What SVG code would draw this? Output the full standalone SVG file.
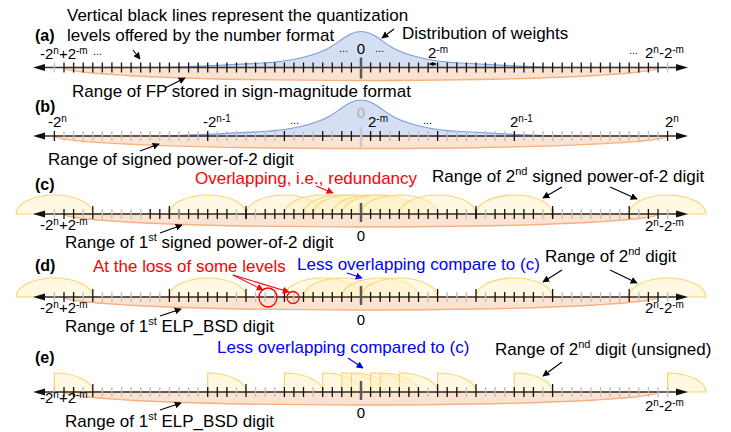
<svg xmlns="http://www.w3.org/2000/svg" xmlns:xlink="http://www.w3.org/1999/xlink" width="731" height="432" viewBox="0 0 731 432">
<style>
.t{font-family:"Liberation Sans",Arial,sans-serif;font-size:17px;fill:#000}
.tl{font-family:"Liberation Sans",Arial,sans-serif;font-size:15px;fill:#000}
.dots{font-family:"Liberation Sans",Arial,sans-serif;font-size:11px;fill:#000}
.sp{font-size:10px}
.sp2{font-size:11px}
.b{font-family:"Liberation Sans",Arial,sans-serif;font-size:16px;font-weight:bold;fill:#000}
.red{fill:#ff0000}
.blue{fill:#0000ff}
.lens{fill:#fbe3d2;stroke:#f4b183;stroke-width:1.4}
.dist{fill:#cfdcf2;fill-opacity:0.9;stroke:#7f9fd8;stroke-width:1.2}
.arc{fill:#fff2cc;fill-opacity:0.55;stroke:#fbd46e;stroke-width:1.2}
.axis{stroke:#333;stroke-width:1.6;fill:none}
.head{fill:#111}
.tk{stroke:#111;stroke-width:1.3;fill:none}
.tg{stroke:#c0c0c0;stroke-width:1.3;fill:none}
.ctr{stroke:#595959;stroke-width:2.5}
.ann{stroke:#000;stroke-width:1.1;fill:none;marker-end:url(#ah)}
.annr{stroke:#ff0000;stroke-width:1.1;fill:none;marker-end:url(#ahr)}
.annb{stroke:#0000ff;stroke-width:1.1;fill:none;marker-end:url(#ahb)}
.ring{fill:none;stroke:#ff0000;stroke-width:1.3}
</style>
<defs>
<marker id="ah" viewBox="0 0 10 10" refX="9" refY="5" markerWidth="7" markerHeight="7" markerUnits="userSpaceOnUse" orient="auto"><path d="M0,0L10,5L0,10z" fill="#000"/></marker>
<marker id="ahr" viewBox="0 0 10 10" refX="9" refY="5" markerWidth="7" markerHeight="7" markerUnits="userSpaceOnUse" orient="auto"><path d="M0,0L10,5L0,10z" fill="#ff0000"/></marker>
<marker id="ahb" viewBox="0 0 10 10" refX="9" refY="5" markerWidth="7" markerHeight="7" markerUnits="userSpaceOnUse" orient="auto"><path d="M0,0L10,5L0,10z" fill="#0000ff"/></marker>
<marker id="ahs" viewBox="0 0 10 10" refX="9" refY="5" markerWidth="4" markerHeight="4" markerUnits="userSpaceOnUse" orient="auto-start-reverse"><path d="M0,0L10,5L0,10z" fill="#000"/></marker>
<path id="distshape" class="dist" d="M-200,0C-165,-0.5 -130,-3 -99,-4.5C-70,-5.5 -45,-12.4 -32,-19.5C-22,-25 -12,-36 0,-36C12,-36 22,-25 32,-19.5C45,-12.4 70,-5.5 99,-4.5C130,-3 165,-0.5 200,0Z"/>
<g id="axisline">
<line class="axis" x1="44" y1="0" x2="677" y2="0"/>
<polygon class="head" points="33,0 45,-3.6 45,3.6"/>
<polygon class="head" points="688,0 676,-3.6 676,3.6"/>
</g>
</defs>

<!-- Panel (a) -->
<g id="panel-a">
<path class="lens" d="M64,67.5A297,13 0 0 0 658,67.5Z"/>
<use xlink:href="#distshape" href="#distshape" x="361" y="67.5"/>
<use xlink:href="#axisline" href="#axisline" y="67.5"/>
<g transform="translate(0,67.5)">
<path class="tk" d="M64,-5v10M73.6,-5v10M83.2,-5v10M92.8,-5v10M102.3,-5v10M111.9,-5v10M121.5,-5v10M131.1,-5v10M140.7,-5v10M150.2,-5v10M159.8,-5v10M169.4,-5v10M179,-5v10M188.6,-5v10M198.1,-5v10M207.7,-5v10M217.3,-5v10M226.9,-5v10M236.5,-5v10M246,-5v10M255.6,-5v10M265.2,-5v10M274.8,-5v10M284.4,-5v10M293.9,-5v10M303.5,-5v10M313.1,-5v10M322.7,-5v10M332.3,-5v10M341.8,-5v10M351.4,-5v10M370.6,-5v10M380.2,-5v10M389.7,-5v10M399.3,-5v10M408.9,-5v10M418.5,-5v10M428.1,-5v10M437.6,-5v10M447.2,-5v10M456.8,-5v10M466.4,-5v10M476,-5v10M485.5,-5v10M495.1,-5v10M504.7,-5v10M514.3,-5v10M523.9,-5v10M533.4,-5v10M543,-5v10M552.6,-5v10M562.2,-5v10M571.8,-5v10M581.3,-5v10M590.9,-5v10M600.5,-5v10M610.1,-5v10M619.7,-5v10M629.2,-5v10M638.8,-5v10M648.4,-5v10M658,-5v10"/>
<path class="tg" d="M54.4,-5v10M667.6,-5v10"/>
<line class="ctr" x1="361" y1="-10" x2="361" y2="11"/>
</g>
<text class="t" x="67" y="21">Vertical black lines represent the quantization</text>
<text class="t" x="67" y="41">levels offered by the number format</text>
<text class="b" x="35" y="41">(a)</text>
<text class="tl" x="40" y="58.5">-2<tspan class="sp" dy="-5">n</tspan><tspan dy="5">+2</tspan><tspan class="sp" dy="-5">-m</tspan></text>
<text class="dots" x="93" y="55">...</text>
<text class="dots" x="339" y="52">...</text>
<text class="tl" x="361" y="54" text-anchor="middle">0</text>
<text class="dots" x="375" y="52">...</text>
<text class="tl" x="428" y="58">2<tspan class="sp" dy="-5">-m</tspan></text>
<text class="dots" x="629" y="54">...</text>
<text class="tl" x="645" y="58">2<tspan class="sp" dy="-5">n</tspan><tspan dy="5">-2</tspan><tspan class="sp" dy="-5">-m</tspan></text>
<text class="t" x="402" y="39">Distribution of weights</text>
<text class="t" x="72" y="97">Range of FP stored in sign-magnitude format</text>
</g>

<!-- Panel (b) -->
<g id="panel-b">
<path class="lens" d="M54.4,136A306.6,12.5 0 0 0 667.6,136Z"/>
<use xlink:href="#distshape" href="#distshape" x="361" y="136"/>
<use xlink:href="#axisline" href="#axisline" y="136"/>
<g transform="translate(0,136)">
<path class="tg" d="M64,-5v10M73.6,-5v10M83.2,-5v10M92.8,-5v10M102.3,-5v10M111.9,-5v10M121.5,-5v10M131.1,-5v10M140.7,-5v10M150.2,-5v10M159.8,-5v10M169.4,-5v10M179,-5v10M188.6,-5v10M198.1,-5v10M217.3,-5v10M226.9,-5v10M236.5,-5v10M246,-5v10M255.6,-5v10M265.2,-5v10M274.8,-5v10M293.9,-5v10M303.5,-5v10M313.1,-5v10M332.3,-5v10M389.7,-5v10M408.9,-5v10M418.5,-5v10M428.1,-5v10M447.2,-5v10M456.8,-5v10M466.4,-5v10M476,-5v10M485.5,-5v10M495.1,-5v10M504.7,-5v10M523.9,-5v10M533.4,-5v10M543,-5v10M552.6,-5v10M562.2,-5v10M571.8,-5v10M581.3,-5v10M590.9,-5v10M600.5,-5v10M610.1,-5v10M619.7,-5v10M629.2,-5v10M638.8,-5v10M648.4,-5v10M658,-5v10"/>
<path class="tk" d="M54.4,-5v10M207.7,-5v10M284.4,-5v10M322.7,-5v10M341.8,-5v10M351.4,-5v10M370.6,-5v10M380.2,-5v10M399.3,-5v10M437.6,-5v10M514.3,-5v10M667.6,-5v10"/>
<line x1="361" y1="-9" x2="361" y2="11" stroke="#c8c8c8" stroke-width="2.5"/>
</g>
<text class="b" x="35" y="112">(b)</text>
<text class="tl" x="48" y="127">-2<tspan class="sp" dy="-5">n</tspan></text>
<text class="tl" x="203" y="127">-2<tspan class="sp" dy="-5">n-1</tspan></text>
<text class="dots" x="290" y="124">...</text>
<text class="tl" x="361" y="118" text-anchor="middle" style="fill:#b0b0b0">0</text>
<text class="tl" x="368" y="127">2<tspan class="sp" dy="-5">-m</tspan></text>
<text class="dots" x="423" y="124">...</text>
<text class="tl" x="510" y="127">2<tspan class="sp" dy="-5">n-1</tspan></text>
<text class="tl" x="665" y="127">2<tspan class="sp" dy="-5">n</tspan></text>
<text class="t" x="48" y="165">Range of signed power-of-2 digit</text>
</g>

<!-- Panel (c) -->
<g id="panel-c">
<path class="lens" d="M64,214A297,13 0 0 0 658,214Z"/>
<g id="arcs-c">
<path class="arc" d="M16.1,214A38.3,19 0 0 1 92.8,214Z"/>
<path class="arc" d="M169.4,214A38.3,19 0 0 1 246,214Z"/>
<path class="arc" d="M246,214A38.3,19 0 0 1 322.7,214Z"/>
<path class="arc" d="M284.4,214A38.3,19 0 0 1 361,214Z"/>
<path class="arc" d="M303.5,214A38.3,19 0 0 1 380.2,214Z"/>
<path class="arc" d="M313.1,214A38.3,19 0 0 1 389.7,214Z"/>
<path class="arc" d="M332.3,214A38.3,19 0 0 1 408.9,214Z"/>
<path class="arc" d="M341.8,214A38.3,19 0 0 1 418.5,214Z"/>
<path class="arc" d="M361,214A38.3,19 0 0 1 437.6,214Z"/>
<path class="arc" d="M399.3,214A38.3,19 0 0 1 476,214Z"/>
<path class="arc" d="M476,214A38.3,19 0 0 1 552.6,214Z"/>
<path class="arc" d="M629.2,214A38.3,19 0 0 1 705.9,214Z"/>
</g>
<use xlink:href="#axisline" href="#axisline" y="214"/>
<g transform="translate(0,214)">
<path class="tk" d="M64,-5v10M73.6,-5v10M150.2,-5v10M159.8,-5v10M169.4,-5v10M179,-5v10M188.6,-5v10M198.1,-5v10M207.7,-5v10M217.3,-5v10M226.9,-5v10M246,-5v10M265.2,-5v10M274.8,-5v10M284.4,-5v10M293.9,-5v10M303.5,-5v10M313.1,-5v10M322.7,-5v10M332.3,-5v10M341.8,-5v10M351.4,-5v10M370.6,-5v10M380.2,-5v10M389.7,-5v10M399.3,-5v10M408.9,-5v10M418.5,-5v10M428.1,-5v10M437.6,-5v10M447.2,-5v10M456.8,-5v10M476,-5v10M495.1,-5v10M504.7,-5v10M514.3,-5v10M523.9,-5v10M533.4,-5v10M552.6,-5v10M648.4,-5v10M658,-5v10"/>
<path class="tk" d="M92.8,-8v13M169.4,-8v13M246,-8v13M476,-8v13M552.6,-8v13M629.2,-8v13"/>
<path class="tg" d="M54.4,-5v10M83.2,-5v10M102.3,-5v10M111.9,-5v10M121.5,-5v10M131.1,-5v10M140.7,-5v10M179,-5v10M236.5,-5v10M255.6,-5v10M466.4,-5v10M485.5,-5v10M543,-5v10M562.2,-5v10M571.8,-5v10M581.3,-5v10M590.9,-5v10M600.5,-5v10M610.1,-5v10M619.7,-5v10M638.8,-5v10M667.6,-5v10"/>
<line class="ctr" x1="361" y1="-11" x2="361" y2="8"/>
</g>
<text class="b" x="35" y="190">(c)</text>
<text class="t red" x="195" y="184">Overlapping, i.e., redundancy</text>
<text class="t" x="432" y="182">Range of 2<tspan class="sp2" dy="-7">nd</tspan><tspan dy="7"> signed power-of-2 digit</tspan></text>
<text class="tl" x="40" y="229.5">-2<tspan class="sp" dy="-5">n</tspan><tspan dy="5">+2</tspan><tspan class="sp" dy="-5">-m</tspan></text>
<text class="tl" x="361" y="241" text-anchor="middle">0</text>
<text class="tl" x="645" y="231">2<tspan class="sp" dy="-5">n</tspan><tspan dy="5">-2</tspan><tspan class="sp" dy="-5">-m</tspan></text>
<text class="t" x="65" y="247.5">Range of 1<tspan class="sp2" dy="-7">st</tspan><tspan dy="7"> signed power-of-2 digit</tspan></text>
</g>

<!-- Panel (d) -->
<g id="panel-d">
<path class="lens" d="M64,297A297,13 0 0 0 658,297Z"/>
<g id="arcs-d">
<path class="arc" d="M16.1,297A38.3,19 0 0 1 92.8,297Z"/>
<path class="arc" d="M169.4,297A38.3,19 0 0 1 246,297Z"/>
<path class="arc" d="M284.4,297A38.3,19 0 0 1 361,297Z"/>
<path class="arc" d="M303.5,297A38.3,19 0 0 1 380.2,297Z"/>
<path class="arc" d="M341.8,297A38.3,19 0 0 1 418.5,297Z"/>
<path class="arc" d="M361,297A38.3,19 0 0 1 437.6,297Z"/>
<path class="arc" d="M476,297A38.3,19 0 0 1 552.6,297Z"/>
<path class="arc" d="M629.2,297A38.3,19 0 0 1 705.9,297Z"/>
</g>
<use xlink:href="#axisline" href="#axisline" y="297"/>
<g transform="translate(0,297)">
<path class="tk" d="M64,-5v10M73.6,-5v10M179,-5v10M188.6,-5v10M198.1,-5v10M207.7,-5v10M217.3,-5v10M226.9,-5v10M303.5,-5v10M313.1,-5v10M322.7,-5v10M332.3,-5v10M341.8,-5v10M351.4,-5v10M370.6,-5v10M380.2,-5v10M389.7,-5v10M399.3,-5v10M408.9,-5v10M418.5,-5v10M495.1,-5v10M504.7,-5v10M514.3,-5v10M523.9,-5v10M533.4,-5v10M648.4,-5v10M658,-5v10"/>
<path class="tk" d="M92.8,-8v13M169.4,-8v13M246,-8v13M284.4,-8v13M437.6,-8v13M476,-8v13M552.6,-8v13M629.2,-8v13"/>
<path class="tg" d="M54.4,-5v10M83.2,-5v10M102.3,-5v10M111.9,-5v10M121.5,-5v10M131.1,-5v10M140.7,-5v10M150.2,-5v10M159.8,-5v10M236.5,-5v10M255.6,-5v10M265.2,-5v10M274.8,-5v10M293.9,-5v10M428.1,-5v10M447.2,-5v10M456.8,-5v10M466.4,-5v10M485.5,-5v10M543,-5v10M562.2,-5v10M571.8,-5v10M581.3,-5v10M590.9,-5v10M600.5,-5v10M610.1,-5v10M619.7,-5v10M638.8,-5v10M667.6,-5v10"/>
<line class="ctr" x1="361" y1="-11" x2="361" y2="8"/>
</g>
<ellipse class="ring" cx="268" cy="297.5" rx="9" ry="9.5"/>
<circle class="ring" cx="293" cy="297.5" r="6"/>
<text class="b" x="35" y="271">(d)</text>
<text class="t red" x="93" y="272">At the loss of some levels</text>
<text class="t blue" x="297" y="270">Less overlapping compare to (c)</text>
<text class="t" x="545" y="262">Range of 2<tspan class="sp2" dy="-7">nd</tspan><tspan dy="7"> digit</tspan></text>
<text class="tl" x="40" y="313">-2<tspan class="sp" dy="-5">n</tspan><tspan dy="5">+2</tspan><tspan class="sp" dy="-5">-m</tspan></text>
<text class="tl" x="361" y="325" text-anchor="middle">0</text>
<text class="tl" x="645" y="313">2<tspan class="sp" dy="-5">n</tspan><tspan dy="5">-2</tspan><tspan class="sp" dy="-5">-m</tspan></text>
<text class="t" x="65" y="332">Range of 1<tspan class="sp2" dy="-7">st</tspan><tspan dy="7"> ELP_BSD digit</tspan></text>
</g>

<!-- Panel (e) -->
<g id="panel-e">
<path class="lens" d="M64,392A297,13 0 0 0 658,392Z"/>
<g id="arcs-e">
<path class="arc" d="M54.4,392V373A38.3,19 0 0 1 92.8,392Z"/>
<path class="arc" d="M207.7,392V373A38.3,19 0 0 1 246,392Z"/>
<path class="arc" d="M284.4,392V373A38.3,19 0 0 1 322.7,392Z"/>
<path class="arc" d="M322.7,392V373A38.3,19 0 0 1 361,392Z"/>
<path class="arc" d="M341.8,392V373A38.3,19 0 0 1 380.2,392Z"/>
<path class="arc" d="M351.4,392V373A38.3,19 0 0 1 389.7,392Z"/>
<path class="arc" d="M370.6,392V373A38.3,19 0 0 1 408.9,392Z"/>
<path class="arc" d="M380.2,392V373A38.3,19 0 0 1 418.5,392Z"/>
<path class="arc" d="M399.3,392V373A38.3,19 0 0 1 437.6,392Z"/>
<path class="arc" d="M437.6,392V373A38.3,19 0 0 1 476,392Z"/>
<path class="arc" d="M514.3,392V373A38.3,19 0 0 1 552.6,392Z"/>
<path class="arc" d="M667.6,392V373A38.3,19 0 0 1 705.9,392Z"/>
</g>
<use xlink:href="#axisline" href="#axisline" y="392"/>
<g transform="translate(0,392)">
<path class="tk" d="M64,-5v10M73.6,-5v10M207.7,-5v10M217.3,-5v10M226.9,-5v10M284.4,-5v10M293.9,-5v10M303.5,-5v10M322.7,-5v10M332.3,-5v10M341.8,-5v10M351.4,-5v10M370.6,-5v10M380.2,-5v10M389.7,-5v10M399.3,-5v10M408.9,-5v10M418.5,-5v10M447.2,-5v10M456.8,-5v10M514.3,-5v10M523.9,-5v10M533.4,-5v10"/>
<path class="tk" d="M92.8,-8v13M246,-8v13M437.6,-8v13M476,-8v13M552.6,-8v13"/>
<path class="tg" d="M54.4,-5v10M83.2,-5v10M102.3,-5v10M111.9,-5v10M121.5,-5v10M131.1,-5v10M140.7,-5v10M150.2,-5v10M159.8,-5v10M169.4,-5v10M179,-5v10M188.6,-5v10M198.1,-5v10M236.5,-5v10M255.6,-5v10M265.2,-5v10M274.8,-5v10M313.1,-5v10M428.1,-5v10M466.4,-5v10M485.5,-5v10M495.1,-5v10M504.7,-5v10M543,-5v10M562.2,-5v10M571.8,-5v10M581.3,-5v10M590.9,-5v10M600.5,-5v10M610.1,-5v10M619.7,-5v10M629.2,-5v10M638.8,-5v10M648.4,-5v10M658,-5v10M667.6,-5v10"/>
<line class="ctr" x1="361" y1="-11" x2="361" y2="8"/>
</g>
<text class="b" x="35" y="363">(e)</text>
<text class="t blue" x="217" y="353">Less overlapping compared to (c)</text>
<text class="t" x="495" y="355">Range of 2<tspan class="sp2" dy="-7">nd</tspan><tspan dy="7"> digit (unsigned)</tspan></text>
<text class="tl" x="40" y="403">-2<tspan class="sp" dy="-5">n</tspan><tspan dy="5">+2</tspan><tspan class="sp" dy="-5">-m</tspan></text>
<text class="tl" x="361" y="418" text-anchor="middle">0</text>
<text class="tl" x="645" y="411">2<tspan class="sp" dy="-5">n</tspan><tspan dy="5">-2</tspan><tspan class="sp" dy="-5">-m</tspan></text>
<text class="t" x="65" y="427">Range of 1<tspan class="sp2" dy="-7">st</tspan><tspan dy="7"> ELP_BSD digit</tspan></text>
</g>

<!-- Connectors (annotation arrows) -->
<g id="connectors">
<line class="ann" x1="133" y1="50" x2="140" y2="59"/>
<line class="ann" x1="394" y1="29" x2="382" y2="38"/>
<line x1="429.5" y1="64" x2="436.2" y2="64" stroke="#000" stroke-width="1" marker-start="url(#ahs)" marker-end="url(#ahs)"/>
<line class="ann" x1="165" y1="88" x2="185" y2="78"/>
<line class="ann" x1="140" y1="151" x2="159" y2="144"/>
<line class="annr" x1="316" y1="186" x2="333" y2="193"/>
<line class="ann" x1="562" y1="187" x2="543" y2="198"/>
<line class="ann" x1="610" y1="187" x2="637" y2="199"/>
<line class="ann" x1="160" y1="233" x2="182" y2="225"/>
<line class="annr" x1="233" y1="275" x2="263" y2="290"/>
<line class="annr" x1="233" y1="275" x2="289" y2="292"/>
<line class="annb" x1="347" y1="273" x2="362" y2="278"/>
<line class="ann" x1="562" y1="270" x2="543" y2="282"/>
<line class="ann" x1="610" y1="270" x2="637" y2="283"/>
<line class="ann" x1="160" y1="316" x2="181" y2="309"/>
<line class="annb" x1="348" y1="358" x2="363" y2="368"/>
<line class="ann" x1="562" y1="362" x2="543" y2="376"/>
<line class="ann" x1="160" y1="410" x2="181" y2="403"/>
</g>
</svg>
